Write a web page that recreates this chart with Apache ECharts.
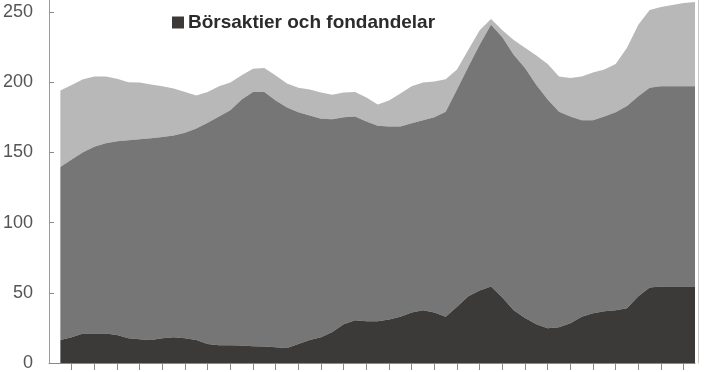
<!DOCTYPE html>
<html>
<head>
<meta charset="utf-8">
<script src="https://cdn.jsdelivr.net/npm/echarts@6/dist/echarts.min.js"></script>
<style>
html,body{margin:0;padding:0;background:#fff;}
#chart{width:708px;height:372px;}
</style>
</head>
<body>
<div id="chart"></div>
<script>
// sample positions along the time axis (in category units, 28 periods)
const xs = [0,0.5,1,1.5,2,2.5,3,3.5,4,4.5,5,5.5,6,6.5,7,7.5,8,8.5,9,9.5,10,10.5,11,11.5,12,12.5,13,13.5,14,14.5,15,15.5,16,16.5,17,17.5,18,18.5,19,19.5,20,20.5,21,21.5,22,22.5,23,23.5,24,24.5,25,25.5,26,26.5,27,27.5,28];
// period tick positions (centres of the 28 periods)
const xTicks = [0.5,1.5,2.5,3.5,4.5,5.5,6.5,7.5,8.5,9.5,10.5,11.5,12.5,13.5,14.5,15.5,16.5,17.5,18.5,19.5,20.5,21.5,22.5,23.5,24.5,25.5,26.5,27.5];
const yTicks = [0,50,100,150,200,250];

const seriesNames = ['Börsaktier och fondandelar','Övriga tillgångar','Övrigt'];
// dark layer: Börsaktier och fondandelar
const borsaktier = [16.3,18.4,21,21,21,20,17.7,17,16.3,17.7,18.4,17.7,16.3,13.5,12.7,12.7,12.4,12,11.7,11.3,10.6,13.5,16.3,18.4,22,27.6,30.5,29.7,29.7,31,33,36,37.5,36,33,40,47.5,51.7,54.5,46.7,37.5,32,27.6,24.8,25.5,28.3,33,35.4,36.8,37.5,39,47.5,53.8,54.5,54.5,54.5,54.5];
// middle layer
const mellan = [123.2,126.6,129,133,135.5,138,140.9,142.3,143.7,143.3,143.6,146.3,150.7,157.5,162.9,167.3,175.3,181,181.3,175.7,171.4,165,160,155.6,151.5,147.4,145.1,142.3,139.3,137.5,135.5,134.7,135.3,139,146,154.8,163.5,174.9,186.3,185.3,182,178,170.4,162.9,153.5,147.3,139.8,137.4,138.8,141,144,142.5,142.2,142.5,142.5,142.5,142.5];
// top light layer
const ovre = [54.5,53,52,50,47.5,44.5,41.4,40.4,38.3,36,33.5,29,23.5,22,21.4,19.7,17.3,16.6,17,17.7,17,17.5,18.5,18.6,17.5,17.6,17.4,17,15,18.5,23.5,26.3,26.9,25.4,23,14.2,12,10.4,4.2,5,10.5,14.5,21,25.3,25,27.4,31.2,34,33.4,34.5,41.5,50.8,55.4,56.5,58,59.4,60];

// value first, position second, so the stack is built on the value dimension
const pair = arr => xs.map((x, i) => [arr[i], x]);
const colors = ['#3c3a38', '#767676', '#b8b8b8'];
const layers = [borsaktier, mellan, ovre];

const chart = echarts.init(document.getElementById('chart'));
chart.setOption({
  animation: false,
  backgroundColor: '#ffffff',
  grid: { left: 48, right: 13, top: 0, bottom: 7, containLabel: false },
  legend: {
    data: [seriesNames[0]],
    left: 172, top: 13, padding: 0,
    icon: 'rect', itemWidth: 12, itemHeight: 12, itemGap: 10,
    selectedMode: false,
    textStyle: { fontFamily: 'Liberation Sans', fontWeight: 'bold', fontSize: 19, color: '#2b2b2b', padding: [0,0,0,-1] }
  },
  xAxis: {
    type: 'value', min: -0.5, max: 28,
    axisLine: { show: true, onZero: false, lineStyle: { color: '#8a8a8a', width: 1 } },
    axisTick: { show: true, customValues: xTicks, length: 7, lineStyle: { color: '#8a8a8a' } },
    axisLabel: { show: false },
    splitLine: { show: false }
  },
  yAxis: [{
    type: 'value', min: 0, max: 258.5,
    axisLine: { show: true, onZero: false, lineStyle: { color: '#9a9a9a', width: 1 } },
    axisTick: { show: true, inside: true, length: 5, customValues: yTicks, lineStyle: { color: '#8a8a8a' } },
    axisLabel: { customValues: yTicks, margin: 16, fontFamily: 'Liberation Sans', fontSize: 18, color: '#555' },
    splitLine: { show: false }
  }, {
    type: 'value', min: 0, max: 258.5, position: 'right', offset: 3,
    axisLine: { show: true, onZero: false, lineStyle: { color: '#c8c8c8', width: 1 } },
    axisTick: { show: false }, axisLabel: { show: false }, splitLine: { show: false }
  }],
  series: layers.map((arr, i) => ({
    name: seriesNames[i],
    type: 'line',
    stack: 'total',
    data: pair(arr),
    encode: { x: 1, y: 0 },
    symbol: 'none',
    lineStyle: { width: 0 },
    itemStyle: { color: colors[i] },
    areaStyle: { color: colors[i], opacity: 1 },
    z: 3 - i
  }))
});
</script>
</body>
</html>
